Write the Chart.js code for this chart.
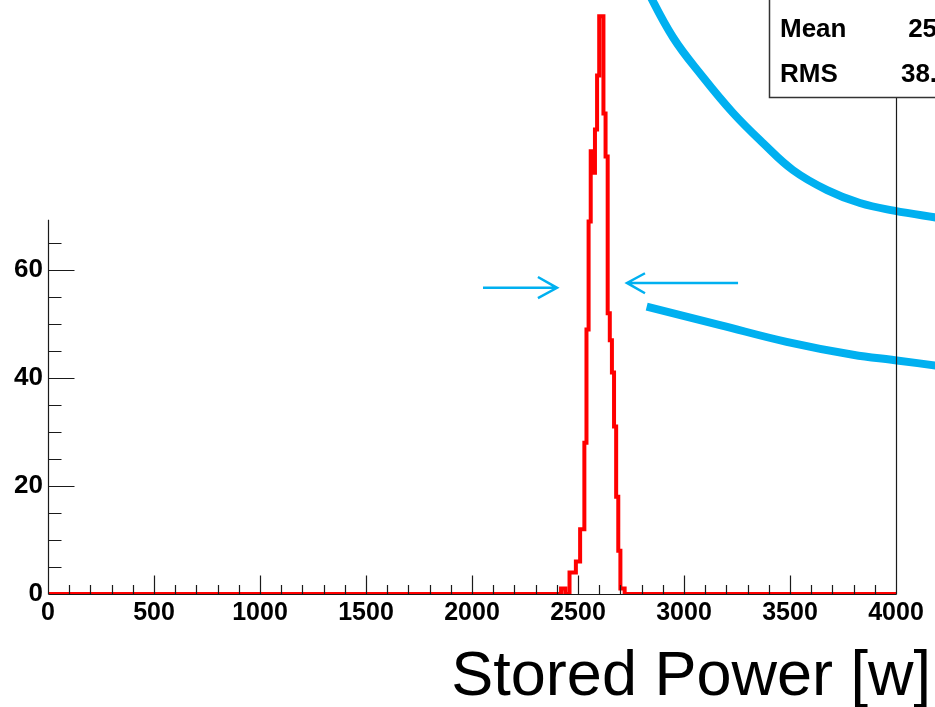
<!DOCTYPE html>
<html>
<head>
<meta charset="utf-8">
<title>Stored Power</title>
<script src="https://cdn.jsdelivr.net/npm/chart.js@4.4.0/dist/chart.umd.min.js"></script>
<style>
  html, body { margin: 0; padding: 0; background: #fff; overflow: hidden; }
  #wrap { width: 935px; height: 707px; }
</style>
</head>
<body>
<div id="wrap"><canvas id="myChart" width="935" height="707"></canvas></div>
<script>
// histogram: low edge of each 10 w bin and its count
var binLow = [2400, 2410, 2420, 2430, 2440, 2450, 2460, 2470, 2480, 2490,
              2500, 2510, 2520, 2530, 2540, 2550, 2560, 2570, 2580, 2590,
              2600, 2610, 2620, 2630, 2640, 2650, 2660, 2670, 2680, 2690,
              2700, 2710, 2720];
var counts = [0, 0, 1, 1, 0, 0, 4, 4, 4, 6,
              6, 12, 12, 28, 49, 69, 82, 78, 86, 96,
              107, 107, 89, 81, 52, 47, 41, 31, 18, 8,
              1, 1, 0];

// axis range and tick labels
var xMin = 0, xMax = 4000, xTickStep = 500;
var yMax = 110, yTickStep = 20, yLabelMax = 60;
var yAxisTop = 69.3; // the y axis is cut off here in the original

// stats box (values are cut by the right edge of the picture)
var statNames = ['Mean', 'RMS'];
var statValues = ['2598', '38.51'];
var axisTitle = 'Stored Power [w]';

// blue hand-drawn annotations, in data units [w, counts]
var upperCurve = [[2810, 113], [2948, 103.1], [3090, 95.7], [3231, 89.1], [3373, 83.5],
                  [3514, 78.5], [3675, 74.8], [3830, 72.4], [3990, 71.0], [4208, 69.6]];
var lowerCurve = [[2824, 53.2], [3170, 49.8], [3484, 46.7], [3797, 44.3], [3995, 43.3], [4208, 42.2]];
var leftArrow = { tail: [2052, 56.7], tip: [2401, 56.7], arms: [[2311, 58.7], [2311, 54.8]] };
var rightArrow = { tail: [3255, 57.6], tip: [2731, 57.6], arms: [[2816, 59.4], [2816, 55.7]] };

var blue = '#00b0f0';

function pts(list) {
  return list.map(function (p) { return {x: p[0], y: p[1]}; });
}

function arrowPts(a) {
  // shaft, gap, then the open head
  return [
    {x: a.tail[0], y: a.tail[1]}, {x: a.tip[0], y: a.tip[1]},
    {x: a.tip[0], y: null},
    {x: a.arms[0][0], y: a.arms[0][1]}, {x: a.tip[0], y: a.tip[1]}, {x: a.arms[1][0], y: a.arms[1][1]}
  ];
}

// step outline, zero outside the listed bins
var histPoints = [{x: xMin, y: 0}];
for (var i = 0; i < binLow.length; i++) {
  histPoints.push({x: binLow[i], y: counts[i]});
}
histPoints.push({x: xMax, y: 0});

var font = '"Liberation Sans", Arial, Helvetica, sans-serif';
Chart.defaults.font.family = font;
Chart.defaults.color = '#000';

// ROOT style frame: axes with inner ticks, stats box, axis title
var rootFrame = {
  id: 'rootFrame',
  afterDatasetDraw: function (chart, args) {
    if (args.index !== 0) return;
    var ctx = chart.ctx, xs = chart.scales.x, ys = chart.scales.y;
    var x0 = Math.round(xs.getPixelForValue(xMin)) + 0.5;
    var x1 = Math.round(xs.getPixelForValue(xMax)) + 0.5;
    var y0 = Math.round(ys.getPixelForValue(0)) + 0.5;
    var boxBottom = 97.5, boxLeft = 769.5;
    var v, p;

    ctx.save();
    ctx.strokeStyle = '#1a1a1a';
    ctx.lineWidth = 1.2;
    ctx.beginPath();
    ctx.moveTo(x0, y0);
    ctx.lineTo(x1, y0);
    for (v = xMin; v <= xMax; v += 100) {
      p = Math.round(xs.getPixelForValue(v)) + 0.5;
      ctx.moveTo(p, y0);
      ctx.lineTo(p, y0 - (v % 500 === 0 ? 19 : 9.5));
    }
    ctx.moveTo(x0, y0);
    ctx.lineTo(x0, ys.getPixelForValue(yAxisTop));
    for (v = 0; v <= 65; v += 5) {
      p = Math.round(ys.getPixelForValue(v)) + 0.5;
      ctx.moveTo(x0, p);
      ctx.lineTo(x0 + (v % 20 === 0 ? 26 : 13), p);
    }
    ctx.moveTo(x1, y0);
    ctx.lineTo(x1, boxBottom);
    ctx.stroke();

    // stats box
    ctx.fillStyle = '#fff';
    ctx.fillRect(boxLeft, -5, 200, boxBottom + 5);
    ctx.strokeStyle = '#333';
    ctx.lineWidth = 1.5;
    ctx.strokeRect(boxLeft, -5, 200, boxBottom + 5);
    ctx.fillStyle = '#000';
    ctx.font = 'bold 26px ' + font;
    ctx.textBaseline = 'middle';
    for (var k = 0; k < statNames.length; k++) {
      var ty = 30 + k * 45;
      ctx.textAlign = 'left';
      ctx.fillText(statNames[k], 780, ty);
      ctx.textAlign = 'right';
      ctx.fillText(statValues[k], 966, ty);
    }

    // axis title
    ctx.font = '63px ' + font;
    ctx.textAlign = 'right';
    ctx.textBaseline = 'alphabetic';
    ctx.fillText(axisTitle, 931, 695);
    ctx.restore();
  }
};

var ctx = document.getElementById('myChart').getContext('2d');
var chart = new Chart(ctx, {
  type: 'line',
  data: {
    datasets: [{
      data: histPoints,
      stepped: true,
      borderColor: '#ff0000',
      borderWidth: 4,
      borderJoinStyle: 'miter',
      pointRadius: 0,
      fill: false
    }, {
      data: pts(upperCurve),
      borderColor: blue, borderWidth: 8, borderCapStyle: 'butt',
      tension: 0.4, pointRadius: 0, clip: false
    }, {
      data: pts(lowerCurve),
      borderColor: blue, borderWidth: 8, borderCapStyle: 'butt',
      tension: 0.4, pointRadius: 0, clip: false
    }, {
      data: arrowPts(leftArrow),
      borderColor: blue, borderWidth: 2.5, pointRadius: 0, clip: false
    }, {
      data: arrowPts(rightArrow),
      borderColor: blue, borderWidth: 2.5, pointRadius: 0, clip: false
    }]
  },
  options: {
    responsive: false,
    animation: false,
    devicePixelRatio: 1,
    layout: { padding: { left: 0, right: 39, top: 0, bottom: 0 } },
    plugins: { legend: { display: false }, tooltip: { enabled: false } },
    scales: {
      x: {
        type: 'linear', min: xMin, max: xMax,
        grid: { display: false, drawTicks: false },
        border: { display: false },
        ticks: { stepSize: xTickStep, autoSkip: false, maxRotation: 0, padding: 4,
                 font: { size: 25, weight: 'bold' },
                 callback: function (v) { return String(v); } },
        afterFit: function (s) { s.height = 113; }
      },
      y: {
        min: 0, max: yMax,
        grid: { display: false, drawTicks: false },
        border: { display: false },
        ticks: { stepSize: yTickStep, padding: 5, font: { size: 26, weight: 'bold' },
                 callback: function (v) { return v <= yLabelMax ? String(v) : null; } },
        afterFit: function (s) { s.width = 48; s.paddingTop = 0; }
      }
    }
  },
  plugins: [rootFrame]
});
</script>
</body>
</html>
